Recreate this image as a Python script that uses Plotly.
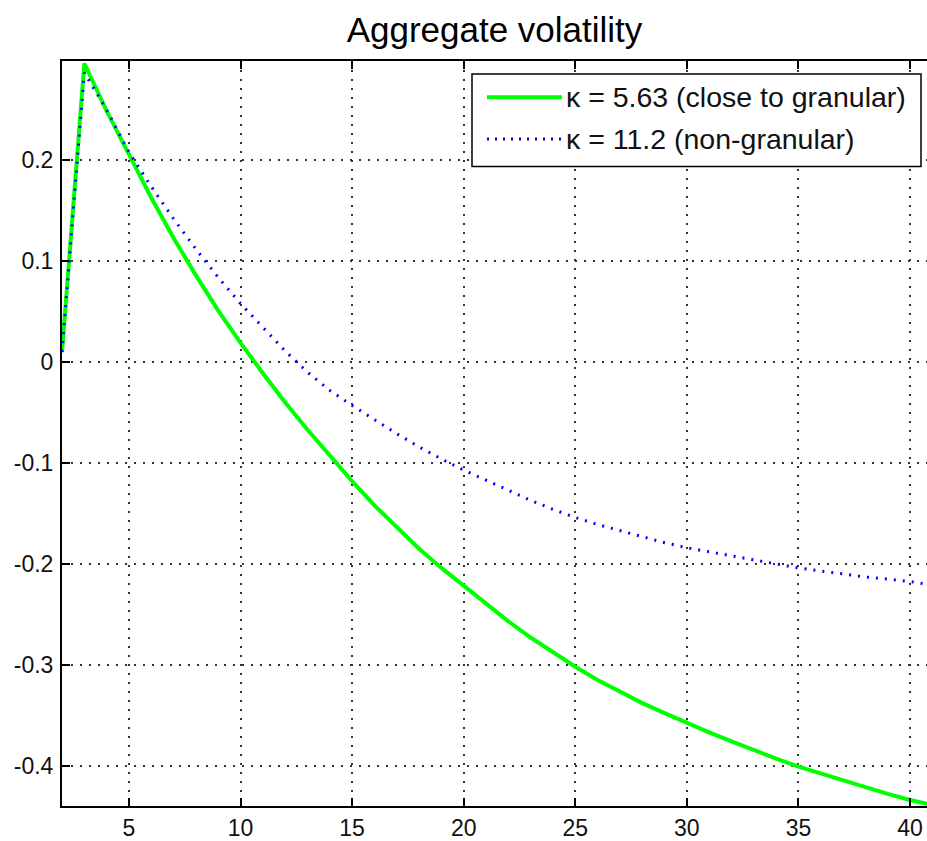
import plotly.graph_objects as go

# ---- data ----
periods = list(range(2, 42))

kappa_563 = [0.010, 0.296, 0.249, 0.205, 0.163, 0.123, 0.086, 0.051, 0.019, -0.011,
             -0.040, -0.067, -0.093, -0.118, -0.142, -0.164, -0.185, -0.204, -0.222, -0.240,
             -0.257, -0.273, -0.288, -0.302, -0.315, -0.327, -0.338, -0.348, -0.358, -0.367,
             -0.376, -0.385, -0.393, -0.401, -0.408, -0.415, -0.422, -0.428, -0.434, -0.439]

kappa_112 = [0.010, 0.287, 0.250, 0.208, 0.174, 0.142, 0.112, 0.084, 0.058, 0.034,
             0.011, -0.010, -0.028, -0.043, -0.057, -0.071, -0.084, -0.096, -0.107, -0.117,
             -0.127, -0.137, -0.146, -0.154, -0.161, -0.167, -0.173, -0.179, -0.184, -0.188,
             -0.192, -0.196, -0.200, -0.204, -0.207, -0.210, -0.213, -0.215, -0.2175, -0.221]

name_563 = "\u03ba = 5.63 (close to granular)"
name_112 = "\u03ba = 11.2 (non-granular)"

x_ticks = [5, 10, 15, 20, 25, 30, 35, 40]
y_ticks = [-0.4, -0.3, -0.2, -0.1, 0, 0.1, 0.2]
y_tick_labels = ["-0.4", "-0.3", "-0.2", "-0.1", "0", "0.1", "0.2"]

GREEN = "#00ff00"
BLUE = "#0000ff"
FONT = "Arial, Liberation Sans, Helvetica, sans-serif"

fig = go.Figure()
fig.add_trace(go.Scatter(x=periods, y=kappa_563, mode="lines", name=name_563,
                         line=dict(color=GREEN, width=4), showlegend=False))
fig.add_trace(go.Scatter(x=periods, y=kappa_112, mode="lines", name=name_112,
                         line=dict(color=BLUE, width=3, dash="2px,7px"), showlegend=False))

grid = dict(showgrid=True, gridcolor="#333333", gridwidth=1.5, griddash="2px,7px",
            zeroline=False, showline=True, linecolor="black", linewidth=2,
            ticks="inside", ticklen=8, tickwidth=1.5, tickcolor="black",
            tickfont=dict(family=FONT, size=23, color="#111111"))

fig.update_xaxes(range=[2, 40.76], tickvals=x_ticks, mirror="ticks", **grid)
fig.update_yaxes(range=[-0.44, 0.2985], tickvals=y_ticks, ticktext=y_tick_labels,
                 mirror=False, ticklabelstandoff=2, **grid)

# ---- legend box drawn like the MATLAB legend ----
px0, px1 = 62, 927
py0, py1 = 61, 810
def fx(p):
    return (p - px0) / (px1 - px0)
def fy(p):
    return (py1 - p) / (py1 - py0)

shapes = [
    dict(type="rect", xref="paper", yref="paper", x0=fx(472), x1=fx(921), y0=fy(167), y1=fy(74),
         line=dict(color="black", width=1.5), fillcolor="white", layer="above"),
    dict(type="line", xref="paper", yref="paper", x0=fx(487), x1=fx(562), y0=fy(97.5), y1=fy(97.5),
         line=dict(color=GREEN, width=4), layer="above"),
    dict(type="line", xref="paper", yref="paper", x0=fx(487), x1=fx(562), y0=fy(139.5), y1=fy(139.5),
         line=dict(color=BLUE, width=3, dash="2px,6px"), layer="above"),
]
annotations = [
    dict(xref="paper", yref="paper", x=fx(564), y=fy(97.5), xanchor="left", yanchor="middle",
         text=name_563, showarrow=False, font=dict(family=FONT, size=28.5, color="#111111")),
    dict(xref="paper", yref="paper", x=fx(564), y=fy(139.5), xanchor="left", yanchor="middle",
         text=name_112, showarrow=False, font=dict(family=FONT, size=28.5, color="#111111")),
]

fig.update_layout(
    width=927, height=841,
    margin=dict(l=62, r=0, t=61, b=31),
    paper_bgcolor="white", plot_bgcolor="white",
    title=dict(text="Aggregate volatility", x=494.5 / 927, xanchor="center",
               y=1 - 30 / 841, yanchor="middle", yref="container",
               font=dict(family=FONT, size=35, color="black")),
    shapes=shapes, annotations=annotations,
    showlegend=False,
)

fig.write_html("out.html")
